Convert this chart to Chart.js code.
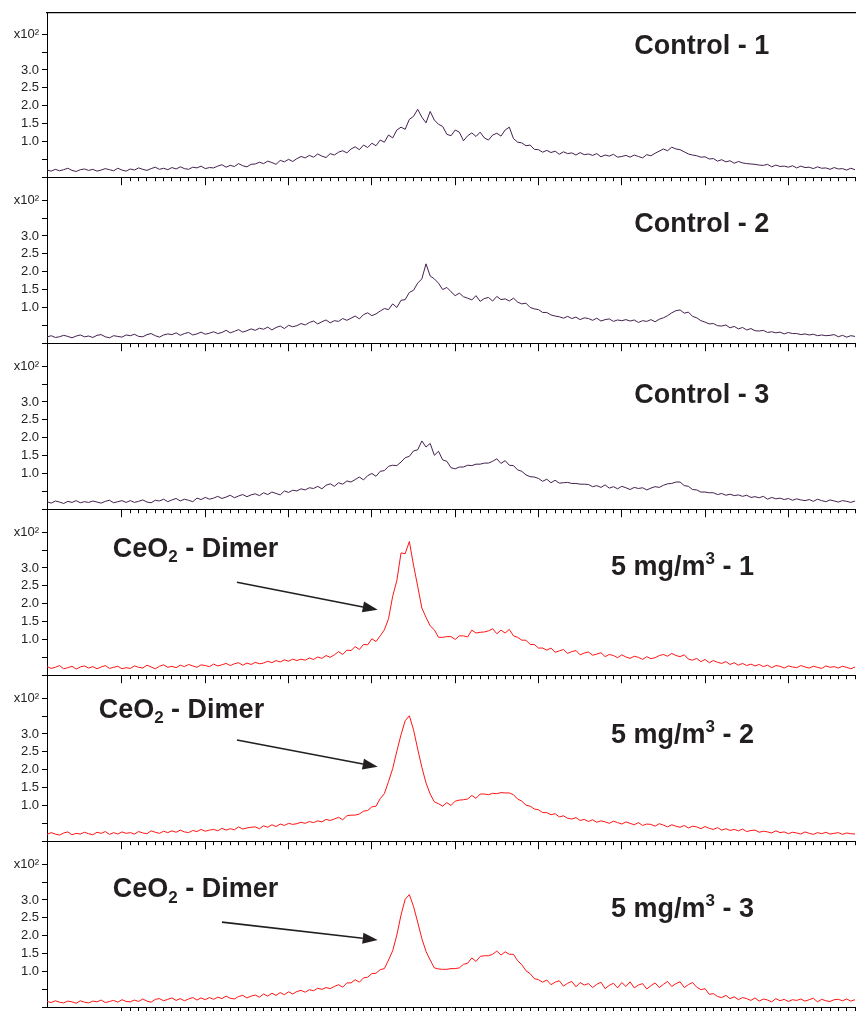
<!DOCTYPE html>
<html><head><meta charset="utf-8">
<script src="https://cdn.jsdelivr.net/npm/chart.js@4.4.0/dist/chart.umd.min.js"></script>
<style>
html,body{margin:0;padding:0;background:#fff;}
#wrap{position:relative;width:868px;height:1011px;overflow:hidden;background:#fff;}
#wrap canvas{position:absolute;left:0;}
</style></head><body><div id="wrap"></div>
<script>
// ---- data (counts; axis shows x10^2) ----
const mzStart = 0, mzStep = 0.5;   // sampling of the x axis (arbitrary units)
const control1 = [
20,17,22,18,21,25,19,16,21,23, 19,22,17,20,24,21,18,25,20,17,
23,20,26,22,19,24,28,22,25,21, 27,23,29,24,22,28,26,31,24,27,
26,31,35,28,33,30,38,32,29,36, 37,42,38,45,41,36,47,43,50,44,
52,58,54,61,56,65,59,55,66,62, 70,74,68,79,85,77,90,83,95,88,
104,98,118,110,132,140,134,162,170,190, 168,152,184,160,148,142,120,116,132,126,
102,116,124,114,126,110,104,118,123,115, 132,140,108,98,96,88,90,78,77,70,
75,69,73,64,71,66,68,62,69,63, 65,61,66,57,62,59,64,56,58,61,
56,62,58,54,63,60,67,73,79,74, 84,79,77,71,65,62,60,56,57,51,
52,45,49,43,46,39,44,40,38,37, 36,34,33,36,29,34,30,31,28,32,
26,31,27,28,24,29,25,26,22,27, 23,24,20,25,21];
const control2 = [
17,21,16,18,22,19,15,20,23,18, 20,16,22,24,18,15,21,19,17,23,
21,25,19,18,24,27,21,17,23,26, 24,29,22,27,30,23,26,31,25,28,
32,27,30,36,29,33,38,31,35,40, 36,42,39,45,37,44,48,41,50,46,
49,55,51,58,62,54,60,65,57,63, 61,69,64,70,76,68,80,85,77,82,
90,97,94,110,100,120,122,142,148,168, 180,222,188,180,168,150,156,144,133,140,
130,126,121,133,117,125,128,118,131,122, 124,118,126,115,110,112,100,96,94,86,
86,79,76,74,70,75,69,73,66,71, 69,64,70,62,66,68,61,65,63,66,
62,65,58,63,61,66,60,67,71,77, 85,91,93,84,87,75,71,63,59,54,
55,49,48,51,43,47,40,44,37,41, 35,34,36,30,32,29,31,26,30,27,
27,24,26,23,25,21,23,21,22,24, 18,22,17,21,19];
const control3 = [
21,17,23,20,16,22,19,24,18,21, 19,23,20,17,22,25,18,21,24,19,
24,19,22,26,20,18,25,23,28,21, 26,30,23,28,25,21,31,27,33,28,
31,36,30,34,39,32,37,41,35,40, 43,38,46,41,48,44,40,51,47,53,
51,57,54,60,58,64,57,67,71,64, 74,70,79,76,83,90,82,94,100,92,
106,108,120,123,122,132,144,148,163,166, 191,174,184,151,162,138,134,116,113,118,
118,123,122,126,126,129,129,134,141,128, 136,123,122,110,106,96,91,90,86,78,
84,74,81,73,74,75,72,72,70,70, 69,63,66,61,68,59,63,57,64,60,
55,61,58,60,54,59,63,61,67,71, 72,76,76,66,64,55,54,48,48,46,
46,41,44,39,42,38,40,36,39,33, 35,32,36,28,33,29,31,27,30,25,
29,26,24,27,22,28,24,21,26,23, 20,24,22,19,23];
const dose1 = [
24,19,22,27,18,21,25,17,23,26, 20,24,18,23,27,19,22,25,18,21,
19,26,22,20,28,23,18,25,29,22, 25,21,28,24,30,26,22,29,27,24,
31,26,29,33,27,32,35,28,34,30, 36,32,34,39,35,41,37,43,39,45,
41,45,42,48,44,51,47,55,50,57, 66,58,70,69,80,72,86,85,102,94,
110,127,158,221,265,342,340,374,308,249, 188,162,138,127,106,106,108,108,100,110,
110,107,126,118,120,121,124,130,116,126, 118,128,110,106,98,98,86,86,76,76,
70,76,64,68,72,61,66,69,57,62, 65,56,59,63,52,58,55,49,57,51,
47,53,50,44,52,46,49,55,58,53, 61,55,52,57,45,42,47,38,44,35,
41,36,33,38,30,35,28,33,27,31, 26,30,24,28,21,27,25,20,26,23,
21,27,23,20,25,22,19,26,22,24, 20,25,22,18,23];
const dose2 = [
19,24,20,17,23,26,18,22,20,25, 21,18,25,22,27,19,24,20,26,22,
24,20,27,23,21,29,25,22,28,24, 29,25,31,26,24,30,27,33,28,31,
33,29,36,31,35,32,40,34,37,39, 40,35,43,39,46,41,48,44,50,47,
49,53,50,55,52,57,54,61,58,62, 67,60,71,73,73,76,84,86,96,98,
119,133,167,203,252,298,337,351,312,258, 207,163,132,110,105,98,108,100,112,115,
116,118,128,120,132,132,130,134,133,136, 135,135,130,118,112,101,98,90,88,80,
80,74,77,68,71,64,62,66,58,61, 55,60,53,57,54,50,56,52,48,54,
50,46,52,44,48,47,42,49,45,40, 46,42,39,44,37,42,40,35,41,36,
33,38,31,35,30,33,29,34,27,30, 31,25,28,26,23,29,24,26,21,25,
23,20,26,22,19,24,21,25,20,22, 24,19,23,21,20];
const dose3 = [
16,13,18,14,12,17,15,11,18,14, 12,17,15,20,13,16,19,14,21,16,
15,20,16,23,17,14,22,24,18,22, 26,19,24,18,23,27,20,26,21,27,
22,28,24,31,25,23,30,33,26,31, 34,28,37,31,39,33,41,35,43,37,
44,47,42,49,46,53,50,55,52,58, 63,56,68,68,77,70,82,84,94,95,
105,108,132,158,202,258,302,315,282,238, 192,156,132,110,107,106,106,108,108,110,
120,123,138,128,142,144,144,148,157,146, 155,148,148,130,119,102,94,80,77,70,
76,63,70,74,59,67,72,57,69,62, 66,55,64,70,52,61,67,54,69,58,
71,54,62,66,51,60,68,55,64,72, 58,66,71,55,63,69,56,49,52,36,
38,30,27,33,24,29,21,27,24,19, 26,17,23,20,15,24,18,22,16,21,
19,23,17,21,25,15,22,18,16,21, 22,18,23,17,21];

const yTickValues = [0, 50, 100, 150, 200, 250, 300, 350, 400];
const yTickLabels = ['', '', '1.0', '1.5', '2.0', '2.5', '3.0', '', 'x10\u00B2'];
const xMinorStart = 9, xMinorEnd = 97, xMinorStep = 1, xMajorStep = 10;

// ---- layout / style ----
const X_MIN = 0, X_MAX = 97, Y_MIN = 0, Y_MAX = 460;
const PANEL_TOPS = [12, 178, 344, 510, 676, 842];
const PANEL_H = 166, PAD = 10;
const PURPLE = '#43214f', RED = '#ff1414', INK = '#231f20';
const FONT = "'Liberation Sans', Arial, Helvetica, sans-serif";

const panels = [
  {data: control1, color: PURPLE, title: [{t: 'Control - 1'}], titleAt: [70.5, 346]},
  {data: control2, color: PURPLE, title: [{t: 'Control - 2'}], titleAt: [70.5, 310]},
  {data: control3, color: PURPLE, title: [{t: 'Control - 3'}], titleAt: [70.5, 296]},
  {data: dose1, color: RED, title: [{t: '5 mg/m'}, {t: '3', sup: true}, {t: ' - 1'}], titleAt: [67.7, 280],
   dimerAt: [7.9, 332], arrow: [[22.8, 260], [39.7, 183]]},
  {data: dose2, color: RED, title: [{t: '5 mg/m'}, {t: '3', sup: true}, {t: ' - 2'}], titleAt: [67.7, 274],
   dimerAt: [6.2, 346], arrow: [[22.8, 283], [39.7, 208]]},
  {data: dose3, color: RED, title: [{t: '5 mg/m'}, {t: '3', sup: true}, {t: ' - 3'}], titleAt: [67.7, 252],
   dimerAt: [7.9, 308], arrow: [[21.0, 238], [39.7, 188]]}
];
const dimerText = [{t: 'CeO'}, {t: '2', sub: true}, {t: ' - Dimer'}];

function drawRich(ctx, segs, x, y, size) {
  ctx.textBaseline = 'alphabetic';
  ctx.textAlign = 'left';
  for (const s of segs) {
    const small = s.sub || s.sup;
    const fs = small ? Math.round(size * 0.64) : size;
    ctx.font = 'bold ' + fs + 'px ' + FONT;
    const dy = s.sub ? size * 0.2 : (s.sup ? -size * 0.4 : 0);
    ctx.fillText(s.t, x, y + dy);
    x += ctx.measureText(s.t).width;
  }
}

function makeAnno(p) {
  return {
    id: 'anno',
    afterDraw(chart) {
      const ctx = chart.ctx, xs = chart.scales.x, ys = chart.scales.y;
      ctx.save();
      ctx.fillStyle = INK; ctx.strokeStyle = INK;
      drawRich(ctx, p.title, xs.getPixelForValue(p.titleAt[0]), ys.getPixelForValue(p.titleAt[1]), 27);
      if (p.dimerAt) {
        drawRich(ctx, dimerText, xs.getPixelForValue(p.dimerAt[0]), ys.getPixelForValue(p.dimerAt[1]), 27);
        const x1 = xs.getPixelForValue(p.arrow[0][0]), y1 = ys.getPixelForValue(p.arrow[0][1]);
        const x2 = xs.getPixelForValue(p.arrow[1][0]), y2 = ys.getPixelForValue(p.arrow[1][1]);
        const a = Math.atan2(y2 - y1, x2 - x1), L = 15, W = 5.5;
        const bx = x2 - L * Math.cos(a), by = y2 - L * Math.sin(a);
        ctx.lineWidth = 1.6;
        ctx.beginPath(); ctx.moveTo(x1, y1); ctx.lineTo(bx, by); ctx.stroke();
        ctx.beginPath();
        ctx.moveTo(x2, y2);
        ctx.lineTo(bx + W * Math.sin(a), by - W * Math.cos(a));
        ctx.lineTo(bx - W * Math.sin(a), by + W * Math.cos(a));
        ctx.closePath(); ctx.fill();
      }
      ctx.restore();
    }
  };
}

const wrap = document.getElementById('wrap');
panels.forEach((p, k) => {
  const cv = document.createElement('canvas');
  cv.width = 868; cv.height = PANEL_H + 2 * PAD;
  cv.style.top = (PANEL_TOPS[k] - PAD) + 'px';
  cv.style.width = '868px'; cv.style.height = (PANEL_H + 2 * PAD) + 'px';
  wrap.appendChild(cv);
  const pts = p.data.map((v, i) => ({x: mzStart + i * mzStep, y: v}));
  const scales = {
    x: {
      type: 'linear', position: 'bottom', min: X_MIN, max: X_MAX,
      afterBuildTicks(s) {
        const t = [];
        for (let v = xMinorStart; v <= xMinorEnd + 1e-9; v += xMinorStep) t.push({value: v});
        s.ticks = t;
      },
      afterFit(s) { s.height = 0; },
      ticks: {display: false},
      grid: {drawOnChartArea: false, drawTicks: true, tickLength: 4, color: '#000', lineWidth: 1},
      border: {display: true, color: '#000', width: 1}
    },
    xMajor: {
      type: 'linear', position: 'bottom', min: X_MIN, max: X_MAX,
      afterBuildTicks(s) {
        const t = [];
        for (let v = xMinorStart; v <= xMinorEnd; v += xMajorStep) t.push({value: v});
        s.ticks = t;
      },
      afterFit(s) { s.height = 0; },
      ticks: {display: false},
      grid: {drawOnChartArea: false, drawTicks: true, tickLength: 8, color: '#000', lineWidth: 1},
      border: {display: false}
    },
    y: {
      type: 'linear', position: 'left', min: Y_MIN, max: Y_MAX,
      afterBuildTicks(s) { s.ticks = yTickValues.map(v => ({value: v})); },
      afterFit(s) { s.width = 47; },
      ticks: {
        autoSkip: false, padding: 3, color: '#222',
        font: {family: FONT, size: 13},
        callback(v) { const i = yTickValues.indexOf(v); return i >= 0 ? yTickLabels[i] : ''; }
      },
      grid: {drawOnChartArea: false, drawTicks: true, tickLength: 5, color: '#000', lineWidth: 1},
      border: {display: true, color: '#000', width: 1}
    }
  };
  if (k === 0) {
    scales.xTop = {
      type: 'linear', position: 'top', min: X_MIN, max: X_MAX,
      afterFit(s) { s.height = 0; },
      ticks: {display: false},
      grid: {display: false, drawOnChartArea: false, drawTicks: false},
      border: {display: true, color: '#000', width: 1.3}
    };
  }
  new Chart(cv, {
    type: 'line',
    data: {datasets: [{data: pts, borderColor: p.color, borderWidth: 1, pointRadius: 0, tension: 0, fill: false}]},
    options: {
      responsive: false, animation: false, devicePixelRatio: 1, events: [],
      layout: {padding: {top: PAD, bottom: PAD, left: 0, right: 13}},
      plugins: {legend: {display: false}, tooltip: {enabled: false}, title: {display: false}},
      scales
    },
    plugins: [makeAnno(p)]
  });
});
</script></body></html>
